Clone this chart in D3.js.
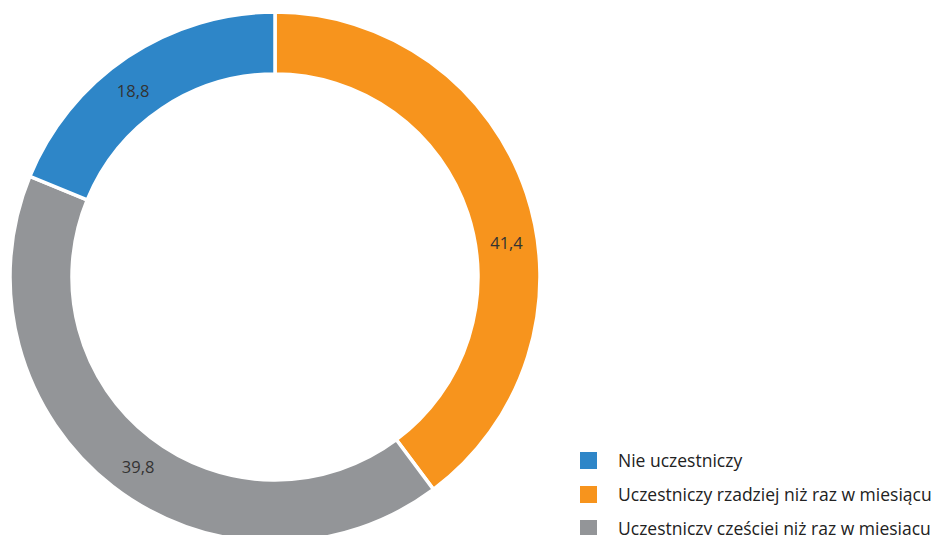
<!DOCTYPE html>
<html><head><meta charset="utf-8">
<script src="https://cdn.jsdelivr.net/npm/d3@7"></script>
<style>body{margin:0;background:#fff;overflow:hidden}</style>
</head><body>
<svg id="c" width="936" height="535"></svg>
<script>
// slice order clockwise from 12 o'clock, as drawn in the reference
const categories = ["Uczestniczy rzadziej niż raz w miesiącu", "Uczestniczy częściej niż raz w miesiacu", "Nie uczestniczy"];
const values = [39.8, 41.4, 18.8];
const labels = ["41,4", "39,8", "18,8"];
const legendOrder = ["Nie uczestniczy", "Uczestniczy rzadziej niż raz w miesiącu", "Uczestniczy częściej niż raz w miesiacu"];
const colors = {"Nie uczestniczy":"#2e86c8","Uczestniczy rzadziej niż raz w miesiącu":"#f7941d","Uczestniczy częściej niż raz w miesiacu":"#939598"};

// layout
const cx = 275, cy = 277, R = 265, r = 203, labelR = 234;
const labelNudgeDeg = [10, -2, -3.5];

const svg = d3.select("#c");
const pie = d3.pie().sort(null).value(d => d.v);
const data = categories.map((c,i)=>({c, v: values[i], l: labels[i], i}));
const arcs = pie(data);
const arc = d3.arc().innerRadius(r).outerRadius(R);
const g = svg.append("g").attr("transform", `translate(${cx},${cy})`);
g.selectAll("path").data(arcs).join("path")
  .attr("d", arc).attr("fill", d => colors[d.data.c])
  .attr("stroke", "#fff").attr("stroke-width", 3.5);
g.selectAll("text").data(arcs).join("text")
  .attr("transform", d => {
    const a = (d.startAngle + d.endAngle)/2 + labelNudgeDeg[d.data.i]*Math.PI/180;
    return `translate(${labelR*Math.sin(a)},${-labelR*Math.cos(a)})`; })
  .attr("text-anchor","middle").attr("dy","0.35em")
  .attr("font-family","Open Sans, sans-serif").attr("font-size",16.5).attr("fill","#333")
  .text(d => d.data.l);

const lg = svg.append("g").attr("transform","translate(580,452)");
const rows = lg.selectAll("g").data(legendOrder).join("g")
  .attr("transform",(d,i)=>`translate(0,${i*34})`);
rows.append("rect").attr("width",17).attr("height",17).attr("fill",d=>colors[d]);
rows.append("text").attr("x",38).attr("y",9).attr("dy","0.35em")
  .attr("font-family","Open Sans, sans-serif").attr("font-size",17.5).attr("fill","#222")
  .text(d=>d);
</script>
</body></html>
